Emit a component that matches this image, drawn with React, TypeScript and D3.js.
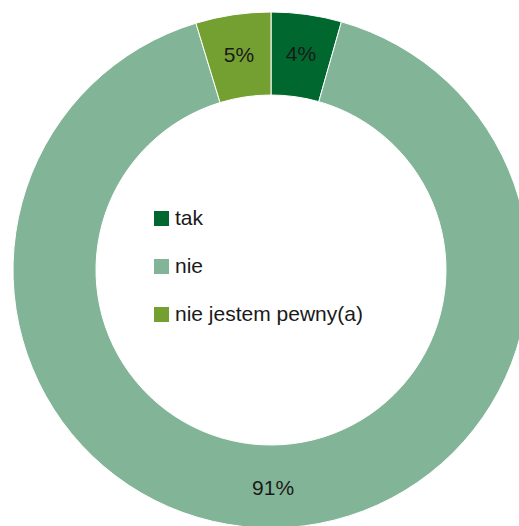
import { useEffect, useRef } from 'react';
import * as d3 from 'd3';

const categories = ['tak', 'nie', 'nie jestem pewny(a)'];
const values = [4.4, 90.9, 4.7];
const labels = ['4%', '91%', '5%'];
const colors = ['#00682f', '#82b597', '#74a032'];

const W = 519;
const H = 526;

export default function App() {
  const svgRef = useRef<SVGSVGElement>(null);

  useEffect(() => {
    if (!svgRef.current) return;
    const svg = d3.select(svgRef.current);
    svg.selectAll('*').remove();

    const cx = 271;
    const cy = 270;
    const outer = 258;
    const inner = 175;

    const g = svg.append('g').attr('transform', `translate(${cx},${cy})`);

    const data = categories.map((c, i) => ({ name: c, value: values[i], label: labels[i], color: colors[i] }));

    const pie = d3.pie<typeof data[number]>()
      .value(d => d.value)
      .sort(null);

    const arc = d3.arc<d3.PieArcDatum<typeof data[number]>>()
      .innerRadius(inner)
      .outerRadius(outer);

    const labelArc = d3.arc<d3.PieArcDatum<typeof data[number]>>()
      .innerRadius(218)
      .outerRadius(218);

    const arcs = pie(data);

    g.selectAll('path.slice')
      .data(arcs)
      .enter()
      .append('path')
      .attr('class', 'slice')
      .attr('d', arc)
      .attr('fill', d => d.data.color)
      .attr('stroke', '#ffffff')
      .attr('stroke-width', 1);

    g.selectAll('text.lbl')
      .data(arcs)
      .enter()
      .append('text')
      .attr('class', 'lbl')
      .attr('transform', d => `translate(${labelArc.centroid(d)})`)
      .attr('text-anchor', 'middle')
      .attr('dy', '0.35em')
      .attr('font-family', 'Liberation Sans, Arial, sans-serif')
      .attr('font-size', 21)
      .attr('fill', '#1a1a1a')
      .text(d => d.data.label);

    // Legend
    const legend = svg.append('g').attr('transform', 'translate(154,211)');
    const rowGap = 48;
    const item = legend.selectAll('g.item')
      .data(data)
      .enter()
      .append('g')
      .attr('class', 'item')
      .attr('transform', (_d, i) => `translate(0,${i * rowGap})`);

    item.append('rect')
      .attr('width', 15)
      .attr('height', 15)
      .attr('fill', d => d.color);

    item.append('text')
      .attr('x', 21)
      .attr('y', 14)
      .attr('font-family', 'Liberation Sans, Arial, sans-serif')
      .attr('font-size', 21)
      .attr('fill', '#1a1a1a')
      .text(d => d.name);
  }, []);

  return (
    <svg
      ref={svgRef}
      width={W}
      height={H}
      style={{ position: 'fixed', left: 0, top: 0, display: 'block', background: '#ffffff' }}
    />
  );
}
